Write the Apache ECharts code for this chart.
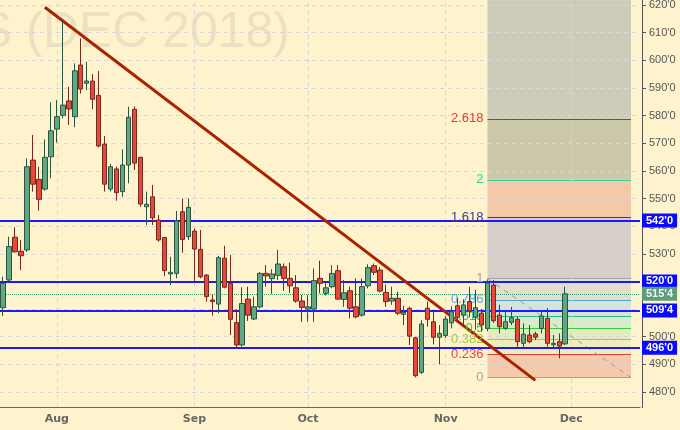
<!DOCTYPE html>
<html lang="en">

<head>
  <meta charset="utf-8">
  <title>Soybeans (Dec 2018)</title>
  <script src="https://cdn.jsdelivr.net/npm/echarts@6/dist/echarts.min.js"></script>
  <style>
    html, body { margin: 0; padding: 0; background: #fff3cd; }
    #main { width: 680px; height: 430px; }
  </style>
</head>

<body>
  <div id="main"></div>

  <script>
    // trading days from Jul 19 2018, weekends and exchange holidays skipped
    var holidays = ['2018-09-03', '2018-11-22'];
    var dates = [];
    var day = new Date(Date.UTC(2018, 6, 19));
    while (dates.length < 107) {
      var wd = day.getUTCDay();
      var s = day.toISOString().slice(0, 10);
      if (wd !== 0 && wd !== 6 && holidays.indexOf(s) < 0) dates.push(s);
      day.setUTCDate(day.getUTCDate() + 1);
    }
    var monthNames = ['Jan', 'Feb', 'Mar', 'Apr', 'May', 'Jun', 'Jul', 'Aug', 'Sep', 'Oct', 'Nov', 'Dec'];
    var monthStarts = ['2018-08-01', '2018-09-04', '2018-10-01', '2018-11-01', '2018-12-03'];

    // daily prices, cents per bushel
    var opens = [
      510.5, 520.5, 536.0, 530.9, 531.4, 563.9, 556.9, 553.4, 565.1, 575.1,
      580.1, 585.3, 579.6, 598.3, 591.7, 592.5, 587.3, 569.7, 553.4, 560.7,
      552.5, 562.1, 582.3, 564.9, 547.0, 550.6, 542.2, 535.9, 522.7, 522.9,
      545.2, 536.2, 538.2, 531.6, 522.3, 513.3, 511.8, 528.4, 519.3, 505.1,
      497.0, 513.6, 506.4, 510.8, 522.9, 521.0, 522.2, 525.3, 521.1, 517.7,
      512.9, 510.0, 510.0, 521.1, 515.7, 518.1, 523.9, 513.5, 516.6, 510.8,
      507.8, 518.4, 525.7, 524.1, 516.0, 512.9, 513.9, 508.1, 510.3, 499.6,
      487.1, 510.3, 505.4, 499.8, 500.4, 505.0, 511.2, 507.8, 512.7, 507.0,
      508.5, 503.0, 518.7, 507.8, 503.0, 505.2, 506.3, 497.6, 500.6, 501.0,
      503.0, 506.6, 497.1, 498.2, 497.4
    ];
    var closes = [
      519.3, 532.6, 530.7, 529.3, 561.5, 555.2, 549.7, 564.9, 574.5, 579.6,
      583.8, 582.4, 596.2, 589.6, 592.5, 585.9, 569.0, 555.2, 561.5, 552.1,
      562.1, 579.4, 562.8, 548.0, 547.9, 543.0, 535.0, 523.9, 523.3, 541.9,
      535.2, 546.8, 531.7, 521.7, 514.5, 512.7, 528.6, 517.9, 506.3, 497.0,
      512.0, 507.8, 510.8, 522.9, 522.0, 522.7, 526.3, 521.1, 518.4, 512.9,
      510.6, 510.8, 520.3, 519.3, 517.7, 522.9, 513.6, 515.9, 510.3, 507.2,
      518.1, 525.0, 523.3, 516.5, 512.7, 513.9, 508.5, 508.8, 500.2, 485.9,
      504.6, 506.3, 499.8, 501.2, 506.4, 509.0, 507.0, 511.5, 509.3, 510.5,
      504.2, 519.4, 505.8, 503.6, 505.4, 506.9, 498.2, 500.9, 498.2, 499.8,
      507.5, 497.6, 497.6, 496.6, 515.5
    ];
    var lows = [
      507.5, 519.9, 530.4, 524.1, 530.7, 552.5, 545.6, 552.8, 557.3, 570.2,
      579.0, 576.6, 575.8, 588.0, 589.2, 582.3, 568.5, 552.5, 552.5, 549.2,
      550.6, 555.5, 560.3, 547.0, 540.4, 540.4, 534.4, 521.9, 518.7, 521.1,
      530.4, 535.0, 519.9, 521.1, 512.7, 507.6, 508.5, 517.5, 500.6, 496.0,
      496.4, 505.7, 506.0, 510.2, 518.1, 515.4, 520.5, 516.6, 515.9, 512.3,
      505.4, 505.4, 505.4, 515.7, 514.9, 517.5, 513.3, 510.8, 506.6, 506.6,
      507.2, 517.5, 522.3, 516.0, 510.8, 511.5, 507.8, 504.2, 497.0, 485.3,
      486.5, 503.6, 497.2, 490.0, 499.5, 503.0, 505.5, 504.5, 507.0, 502.5,
      502.0, 502.0, 505.0, 501.2, 502.4, 504.2, 496.4, 495.8, 497.6, 498.8,
      501.2, 496.4, 495.8, 492.2, 497.0
    ];
    var highs = [
      521.7, 536.2, 539.6, 535.0, 564.5, 573.0, 561.5, 571.4, 584.8, 585.6,
      614.0, 590.4, 598.9, 607.9, 599.5, 595.0, 596.1, 572.6, 562.5, 561.5,
      567.8, 583.2, 583.3, 565.1, 552.5, 554.9, 544.0, 536.1, 528.9, 545.5,
      550.0, 550.0, 539.2, 538.6, 522.6, 515.1, 529.2, 532.9, 529.6, 510.0,
      517.9, 518.1, 514.5, 523.4, 525.9, 524.4, 531.4, 526.5, 526.8, 522.3,
      515.1, 515.1, 524.7, 527.5, 519.8, 525.9, 525.9, 520.5, 518.1, 521.1,
      521.0, 526.2, 526.5, 525.2, 518.9, 518.1, 516.3, 511.2, 510.8, 500.0,
      506.0, 512.7, 509.0, 504.2, 507.5, 511.0, 514.0, 513.5, 518.0, 517.0,
      510.0, 520.7, 520.5, 511.5, 509.0, 510.8, 507.2, 504.8, 504.2, 501.8,
      509.7, 510.3, 500.6, 501.2, 518.1
    ];

    // support / resistance levels and last price
    var levels = [542, 520, 509.5, 496];
    var lastPrice = 515.5;

    // trend line end points
    var trendLine = [['2018-07-30', 619.2], ['2018-11-23', 484.2]];

    // fibonacci extension, drawn from level 0 to level 1
    var fibFrom = '2018-11-12';
    var fibTo = '2018-12-17';
    var fibZero = 485.25;
    var fibOne = 521;
    var fibRatios = [0, 0.236, 0.382, 0.5, 0.618, 0.786, 1, 1.618, 2, 2.618];
    var fibLabels = ['0', '0.236', '0.382', '0.5', '0.618', '0.786', '1', '1.618', '2', '2.618'];
    var fibLineColors = ['#a3a3a3', '#d8413c', '#a8c83a', '#3ccb3c', '#2cba86', '#4aa3df', '#a3a3a3', '#3b3b98', '#2fd193', '#a8352a'];
    var fibTextColors = ['#a3a3a3', '#e0484a', '#a6c93a', '#3ccb3c', '#2cba86', '#55a8e2', '#a3a3a3', '#3b3b98', '#2fd193', '#e0393e'];
    var fibFills = ['#f5c9ab', '#f1ecbc', '#e3ecbe', '#d8ebcb', '#d3e5d8', '#e2ddcc', '#d8cec9', '#f4c9a9', '#cbc9a9', '#cdcbb9'];

    var BG = '#fff3cd';
    var axisFloor = 474.6; // price where the date axis sits

    function fmt(v) {
      var whole = Math.floor(v + 1e-9);
      return whole + "'" + Math.round((v - whole) * 8);
    }

    function isMonthStart(index, value) {
      return index > 0 && value.slice(5, 7) !== dates[index - 1].slice(5, 7);
    }

    var candles = opens.map(function(o, i) {
      return [o, closes[i], lows[i], highs[i]];
    });

    var fibValue = function(r) { return fibZero + r * (fibOne - fibZero); };

    var fibBands = fibRatios.map(function(r, i) {
      var top = i < fibRatios.length - 1 ? fibValue(fibRatios[i + 1]) : 630;
      return [
        { xAxis: fibFrom, yAxis: fibValue(r), itemStyle: { color: fibFills[i] } },
        { xAxis: fibTo, yAxis: top }
      ];
    });

    var fibLines = fibRatios.map(function(r, i) {
      return [
        {
          coord: [fibFrom, fibValue(r)],
          lineStyle: { color: fibLineColors[i], width: 1, type: 'solid' },
          label: {
            show: true, position: 'start', distance: 4, formatter: fibLabels[i],
            color: fibTextColors[i], fontSize: 13, fontFamily: 'Liberation Sans'
          }
        },
        { coord: [fibTo, fibValue(r)] }
      ];
    });
    fibLines.push([
      { coord: [fibFrom, fibOne], lineStyle: { color: '#9a9a9a', width: 1, type: [5, 5] }, label: { show: false } },
      { coord: [fibTo, fibZero] }
    ]);

    var monthLines = monthStarts.map(function(m) {
      return [{ coord: [m, axisFloor] }, { coord: [m, 630] }];
    });

    var levelLines = levels.map(function(v) {
      return {
        yAxis: v,
        lineStyle: { color: '#1a1aff', width: 2, type: 'solid' },
        label: {
          show: true, position: 'end', distance: 2, formatter: fmt(v),
          color: '#fff', backgroundColor: '#0a0aff', padding: [2, 4, 1, 4],
          fontSize: 11, fontWeight: 'bold', fontFamily: 'Liberation Sans'
        }
      };
    });
    levelLines.push({
      yAxis: lastPrice,
      lineStyle: { color: '#3f9a6c', width: 1, type: 'dotted' },
      label: {
        show: true, position: 'end', distance: 2, formatter: fmt(lastPrice),
        color: '#f4f4f4', backgroundColor: '#5e9c7c', padding: [2, 4, 1, 4],
        fontSize: 11, fontWeight: 'bold', fontFamily: 'Liberation Sans'
      }
    });
    levelLines.push([
      { coord: trendLine[0], lineStyle: { color: '#aa2200', width: 3, type: 'solid' }, label: { show: false } },
      { coord: trendLine[1] }
    ]);

    var myChart = echarts.init(document.getElementById('main'));

    var option = {
      animation: false,
      backgroundColor: BG,
      // grid runs past the canvas so the price scale is 470..630 with 10-cent steps
      grid: { left: 0, right: 40, top: -22.6, bottom: 10.4, outerBoundsMode: 'none', containLabel: false },
      graphic: [{
        type: 'text',
        x: 290,
        y: 33,
        z: 0,
        silent: true,
        style: {
          text: 'SOYBEANS (DEC 2018)',
          font: '50px "Liberation Sans"',
          fill: '#ebe0c1',
          align: 'right',
          verticalAlign: 'middle'
        }
      }, {
        type: 'rect',
        z: 100,
        silent: true,
        shape: { x: 620, y: 408, width: 60, height: 22 },
        style: { fill: BG }
      }],
      xAxis: {
        type: 'category',
        data: dates,
        boundaryGap: true,
        offset: -12.6,
        z: 3,
        axisLine: { onZero: false, lineStyle: { color: '#666', width: 1 } },
        axisTick: { alignWithLabel: true, interval: isMonthStart, length: 4, lineStyle: { color: '#666' } },
        axisLabel: {
          interval: isMonthStart,
          formatter: function(v) { return monthNames[+v.slice(5, 7) - 1]; },
          color: '#666',
          fontWeight: 'bold',
          fontSize: 11,
          fontFamily: 'DejaVu Sans',
          margin: 7
        },
        splitLine: { show: false }
      },
      yAxis: {
        type: 'value',
        position: 'right',
        min: 470,
        max: 630,
        interval: 10,
        offset: 2,
        z: 3,
        axisLine: { show: true, lineStyle: { color: '#555' } },
        axisTick: { show: true, length: 4, lineStyle: { color: '#555' } },
        axisLabel: {
          color: '#555',
          fontSize: 11,
          fontFamily: 'Liberation Sans',
          margin: 7,
          showMinLabel: false,
          showMaxLabel: false,
          formatter: fmt
        },
        splitLine: {
          show: true,
          showMinLine: false,
          showMaxLine: false,
          lineStyle: { color: '#d5d7dd', width: 1, type: [4, 4] }
        }
      },
      series: [{
        name: 'fib',
        type: 'line',
        z: 1,
        data: [],
        markArea: { silent: true, data: fibBands },
        markLine: { silent: true, symbol: ['none', 'none'], data: fibLines }
      }, {
        name: 'months',
        type: 'line',
        z: 2,
        data: [],
        markLine: {
          silent: true,
          symbol: ['none', 'none'],
          label: { show: false },
          lineStyle: { color: '#d5d7dd', width: 1, type: [4, 4] },
          data: monthLines
        }
      }, {
        name: 'price',
        type: 'candlestick',
        z: 5,
        barWidth: 5,
        data: candles,
        itemStyle: {
          color: '#5fa882',
          color0: '#e5493a',
          borderColor: '#2a5440',
          borderColor0: '#76281c',
          borderWidth: 1
        }
      }, {
        name: 'lines',
        type: 'line',
        z: 6,
        data: [],
        markLine: {
          silent: true,
          symbol: ['none', 'none'],
          data: levelLines
        }
      }]
    };

    myChart.setOption(option);
  </script>
</body>

</html>
